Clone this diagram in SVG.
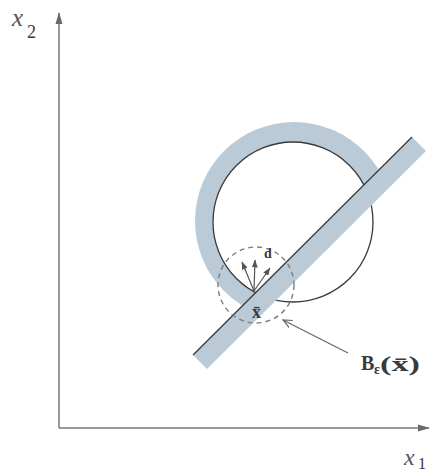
<svg xmlns="http://www.w3.org/2000/svg" width="430" height="473" viewBox="0 0 430 473">
  <style>
    .axis { stroke: #7a7a7a; stroke-width: 1.5; fill: none; }
    .band { fill: #bacbd7; stroke: none; }
    .edge { stroke: #3a3a3a; stroke-width: 1.3; fill: none; }
    .ball { stroke: #7c7c7c; stroke-width: 1.4; fill: none; stroke-dasharray: 5 4; }
    .dir { stroke: #555; stroke-width: 1.2; fill: none; }
    .ptr { stroke: #666; stroke-width: 1.2; fill: none; }
    .lab { font-family: "Liberation Serif", "Times New Roman", serif; fill: #3a3a3a; }
    .it { font-style: italic; fill: #555; }
    .bd { font-weight: bold; }
  </style>
  <defs>
    <marker id="axhead" viewBox="0 0 12 8" refX="11" refY="4" markerWidth="12" markerHeight="8" markerUnits="userSpaceOnUse" orient="auto">
      <path d="M0,0.5 L12,4 L0,7.5 Z" fill="#6a6a6a"/>
    </marker>
    <marker id="dhead" viewBox="0 0 8 6" refX="7.5" refY="3" markerWidth="8" markerHeight="6" markerUnits="userSpaceOnUse" orient="auto">
      <path d="M0,0 L8,3 L0,6 Z" fill="#555"/>
    </marker>
    <marker id="openhead" viewBox="0 0 10 10" refX="9" refY="5" markerWidth="10" markerHeight="10" markerUnits="userSpaceOnUse" orient="auto">
      <path d="M0,1 L9,5 L0,9" fill="none" stroke="#666" stroke-width="1.2"/>
    </marker>
    <clipPath id="upperLeft">
      <polygon points="0,0 548,0 0,548"/>
    </clipPath>
  </defs>

  <g id="axes">
    <line class="axis" x1="59" y1="428" x2="59" y2="13" marker-end="url(#axhead)"/>
    <line class="axis" x1="59" y1="428" x2="429" y2="428" marker-end="url(#axhead)"/>
  </g>

  <g id="ring">
    <path class="band" clip-path="url(#upperLeft)" fill-rule="evenodd"
      d="M195,221 a99,99 0 1,0 198,0 a99,99 0 1,0 -198,0 Z M213,222 a80,80 0 1,0 160,0 a80,80 0 1,0 -160,0 Z"/>
  </g>

  <g id="circle">
    <circle class="edge" cx="293" cy="222" r="80"/>
  </g>

  <g id="stripe">
    <polygon class="band" points="193,355 412,137 426,151 207,369"/>
    <line class="edge" x1="193" y1="355" x2="412" y2="137" stroke-width="1.5"/>
  </g>

  <g id="ball">
    <circle class="ball" cx="256" cy="285" r="38"/>
  </g>

  <g id="connectors">
    <line class="dir" x1="254" y1="291" x2="242" y2="262" marker-end="url(#dhead)"/>
    <line class="dir" x1="254" y1="291" x2="255" y2="260" marker-end="url(#dhead)"/>
    <line class="dir" x1="254" y1="291" x2="270" y2="268" marker-end="url(#dhead)"/>
    <line class="ptr" x1="348" y1="353" x2="283" y2="320" marker-end="url(#openhead)"/>
  </g>

  <g id="labels">
    <text class="lab it" x="12" y="26" font-size="25">x</text>
    <text class="lab" x="27" y="38" font-size="18" fill="#555">2</text>
    <text class="lab it" x="404" y="465" font-size="24">x</text>
    <text class="lab" x="418" y="469" font-size="16" fill="#555">1</text>
    <text class="lab bd" x="264" y="258" font-size="14">d</text>
    <text class="lab bd" x="252" y="318" font-size="18">x̄</text>
    <text class="lab bd" x="361" y="370" font-size="20">B</text>
    <text class="lab bd" x="374" y="374" font-size="14">ε</text>
    <text class="lab bd" x="380" y="371" font-size="22" textLength="40" lengthAdjust="spacingAndGlyphs">(x̄)</text>
  </g>
</svg>
